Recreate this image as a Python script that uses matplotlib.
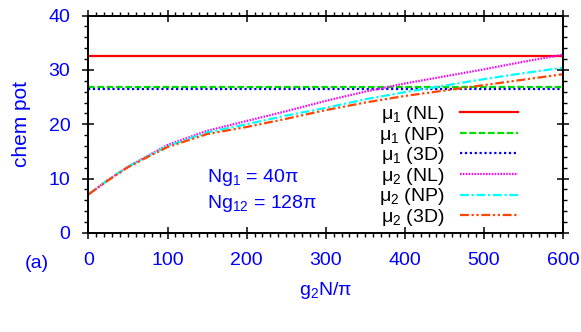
import matplotlib
matplotlib.use("Agg")
import matplotlib.pyplot as plt
from matplotlib.ticker import MultipleLocator

plt.rcParams['font.family'] = ['Liberation Sans', 'DejaVu Sans']
plt.rcParams['mathtext.fontset'] = 'custom'
plt.rcParams['mathtext.rm'] = 'Liberation Sans'
plt.rcParams['mathtext.it'] = 'Liberation Sans:italic'
plt.rcParams['mathtext.default'] = 'regular'

# ---- data ----
g2 = [0, 25, 50, 75, 100, 150, 200, 250, 300, 350, 400, 450, 500, 550, 600]
mu1_NL = [32.6] * len(g2)
mu1_NP = [26.9] * len(g2)
mu1_3D = [26.4] * len(g2)
mu2_NL = [7.1, 9.8, 12.2, 14.2, 16.2, 18.8, 20.6, 22.4, 24.3, 26.0, 27.5, 28.8, 30.1, 31.5, 32.8]
mu2_NP = [7.1, 9.8, 12.2, 14.1, 16.0, 18.5, 20.0, 21.6, 23.0, 24.6, 25.9, 27.1, 28.3, 29.4, 30.4]
mu2_3D = [7.1, 9.7, 12.1, 14.0, 15.8, 18.2, 19.5, 21.0, 22.6, 24.0, 25.2, 26.2, 27.2, 28.2, 29.2]

labels = ['μ$_1$ (NL)', 'μ$_1$ (NP)', 'μ$_1$ (3D)',
          'μ$_2$ (NL)', 'μ$_2$ (NP)', 'μ$_2$ (3D)']
xticks = [0, 100, 200, 300, 400, 500, 600]
yticks = [0, 10, 20, 30, 40]

blue = '#0000ff'
fs = 14
fig = plt.figure(figsize=(5.81, 3.32), dpi=100)
ax = fig.add_axes([0.1523, 0.2982, 0.9690 - 0.1523, 0.9533 - 0.2982])

lw = 1.6
ax.plot(g2, mu1_NL, color='#ff0000', lw=lw, ls='-', label=labels[0])
ax.plot(g2, mu1_NP, color='#00e000', lw=lw, ls=(0, (3, 1.2)), label=labels[1])
ax.plot(g2, mu1_3D, color='#0000ff', lw=lw, ls=(0, (1, 1.2)), label=labels[2])
ax.plot(g2, mu2_NL, color='#ff00ff', lw=lw, ls=(0, (0.7, 0.6)), label=labels[3])
ax.plot(g2, mu2_NP, color='#00ffff', lw=lw, ls=(0, (4, 1.2, 1, 1.2)), label=labels[4])
ax.plot(g2, mu2_3D, color='#ff4500', lw=lw, ls=(0, (4, 1.2, 1, 1.2, 1, 1.2)), label=labels[5])

ax.set_xlim(0, 600)
ax.set_ylim(0, 40)
ax.set_xticks(xticks)
ax.set_yticks(yticks)
ax.xaxis.set_minor_locator(MultipleLocator(10))
ax.yaxis.set_minor_locator(MultipleLocator(2))
ax.tick_params(which='major', direction='inout', length=8, width=1.1,
               top=True, right=True, labelsize=fs, labelcolor=blue)
ax.tick_params(axis='x', which='major', pad=10)
ax.tick_params(axis='y', which='major', pad=9)
ax.tick_params(which='minor', direction='out', length=3, width=1.0,
               top=True, right=True)
for s in ax.spines.values():
    s.set_linewidth(1.4)

ax.set_xlabel('g$_2$N/π', fontsize=fs, color=blue)
ax.xaxis.set_label_coords(0.5, -0.215)
ax.set_ylabel('chem pot', fontsize=15, color=blue)
ax.yaxis.set_label_coords(-0.122, 0.5)

ax.text(0.25, 0.255, 'Ng$_1$ = 40π', transform=ax.transAxes,
        fontsize=fs, color=blue, va='center', ha='left')
ax.text(0.25, 0.135, 'Ng$_{12}$ = 128π', transform=ax.transAxes,
        fontsize=fs, color=blue, va='center', ha='left')
fig.text(37 / 581, 1 - 263 / 332, '(a)', fontsize=fs, color=blue,
         ha='center', va='center')

leg = ax.legend(loc='upper right', bbox_to_anchor=(0.905, 0.593),
                frameon=False, markerfirst=False, fontsize=fs,
                handlelength=3.0, handletextpad=0.75, labelspacing=-0.02,
                borderpad=0, borderaxespad=0)
for t in leg.get_texts():
    t.set_ha('right')

fig.savefig('out.png', dpi=100)
